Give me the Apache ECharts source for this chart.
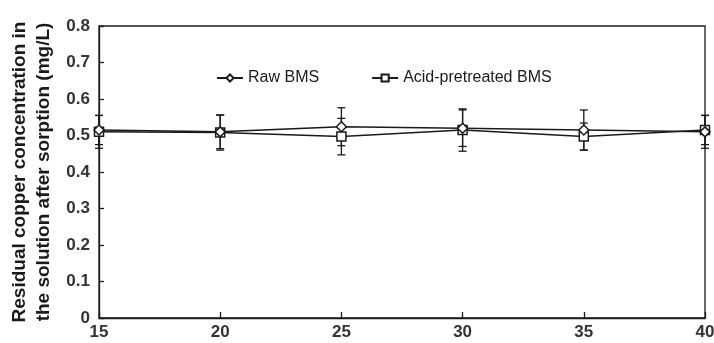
<!DOCTYPE html>
<html>
<head>
<meta charset="utf-8">
<script src="https://cdn.jsdelivr.net/npm/echarts@6/dist/echarts.min.js"></script>
<style>
  html, body { margin: 0; padding: 0; background: #fff; }
  #chart { width: 714px; height: 343px; }
</style>
</head>
<body>
<div id="chart"></div>
<script>
const xValues = [15, 20, 25, 30, 35, 40];
const rawBms = [0.515, 0.51, 0.524, 0.52, 0.515, 0.51];
const rawErr = [0.04, 0.046, 0.052, 0.05, 0.055, 0.045];
const acidBms = [0.51, 0.508, 0.497, 0.515, 0.497, 0.515];
const acidErr = [0.045, 0.048, 0.05, 0.058, 0.037, 0.04];
const yTicks = [0, 0.1, 0.2, 0.3, 0.4, 0.5, 0.6, 0.7, 0.8];

const FONT = "Liberation Sans, Arial, sans-serif";
const INK = "#1a1a1a";

function pairs(vals) {
  return xValues.map((x, i) => [x, vals[i]]);
}

function errRows(vals, errs) {
  return xValues.map((x, i) => [x, vals[i] - errs[i], vals[i] + errs[i]]);
}

function errorBars(api) {
  const lo = api.coord([api.value(0), api.value(1)]);
  const hi = api.coord([api.value(0), api.value(2)]);
  const cap = 4;
  const style = { stroke: INK, lineWidth: 1.3 };
  return {
    type: "group",
    children: [
      { type: "line", shape: { x1: lo[0], y1: lo[1], x2: hi[0], y2: hi[1] }, style },
      { type: "line", shape: { x1: lo[0] - cap, y1: lo[1], x2: lo[0] + cap, y2: lo[1] }, style },
      { type: "line", shape: { x1: hi[0] - cap, y1: hi[1], x2: hi[0] + cap, y2: hi[1] }, style },
    ],
  };
}

const chart = echarts.init(document.getElementById("chart"));
chart.setOption({
  animation: false,
  backgroundColor: "#fff",
  textStyle: { fontFamily: FONT },
  grid: {
    left: 99, right: 9, top: 26, bottom: 25,
    outerBoundsMode: "none",
    show: true, borderColor: INK, borderWidth: 1.3,
  },
  legend: {
    left: 211,
    top: 65,
    itemWidth: 26,
    itemHeight: 9,
    itemGap: 52,
    textStyle: { fontSize: 16, color: INK, fontFamily: FONT },
    data: ["Raw BMS", "Acid-pretreated BMS"],
  },
  xAxis: {
    type: "value",
    min: 15,
    max: 40,
    interval: 5,
    axisLine: { lineStyle: { color: INK, width: 1.3 } },
    axisTick: { inside: true, length: 6, lineStyle: { color: INK, width: 1.3 } },
    axisLabel: { fontSize: 17, fontWeight: "bold", color: "#333", margin: 6, fontFamily: FONT },
    splitLine: { show: false },
  },
  yAxis: {
    type: "value",
    min: 0,
    max: 0.8,
    interval: 0.1,
    name: "Residual copper concentration in\nthe solution after sorption (mg/L)",
    nameLocation: "middle",
    nameGap: 43,
    nameTextStyle: { fontSize: 19, fontWeight: "bold", color: INK, lineHeight: 24, fontFamily: FONT },
    axisLine: { lineStyle: { color: INK, width: 1.3 } },
    axisTick: { inside: true, length: 5, lineStyle: { color: INK, width: 1.3 } },
    axisLabel: {
      fontSize: 17,
      fontWeight: "bold",
      color: "#333",
      margin: 9,
      fontFamily: FONT,
      formatter: (v) => (yTicks.includes(+v.toFixed(1)) ? (v === 0 ? "0" : v.toFixed(1)) : ""),
    },
    splitLine: { show: false },
  },
  series: [
    {
      type: "custom",
      name: "raw-err",
      data: errRows(rawBms, rawErr),
      renderItem: (params, api) => errorBars(api),
      silent: true,
      z: 1,
    },
    {
      type: "custom",
      name: "acid-err",
      data: errRows(acidBms, acidErr),
      renderItem: (params, api) => errorBars(api),
      silent: true,
      z: 1,
    },
    {
      name: "Raw BMS",
      type: "line",
      data: pairs(rawBms),
      symbol: "diamond",
      symbolSize: 10,
      lineStyle: { color: INK, width: 1.5 },
      itemStyle: { color: "#fff", borderColor: INK, borderWidth: 1.5 },
      z: 3,
    },
    {
      name: "Acid-pretreated BMS",
      type: "line",
      data: pairs(acidBms),
      symbol: "rect",
      symbolSize: 9,
      lineStyle: { color: INK, width: 1.5 },
      itemStyle: { color: "#fff", borderColor: INK, borderWidth: 1.5 },
      z: 2,
    },
  ],
});
</script>
</body>
</html>
